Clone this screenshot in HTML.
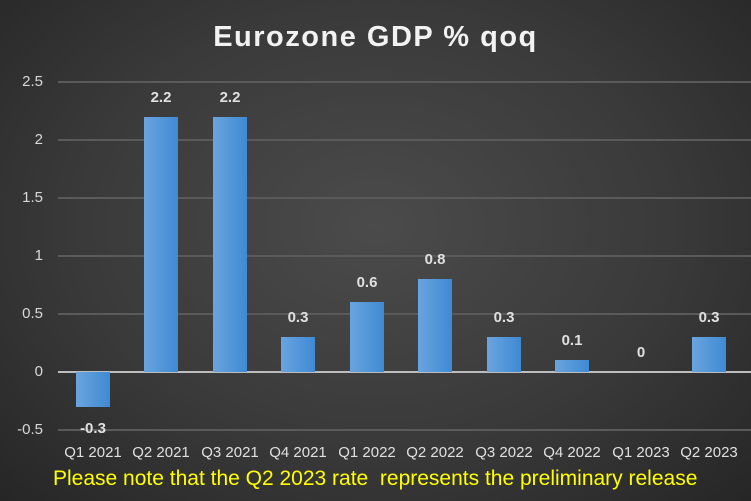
<!DOCTYPE html>
<html><head><meta charset="utf-8"><style>
body{margin:0;width:751px;height:501px;overflow:hidden;font-family:"Liberation Sans",sans-serif}
#c{position:relative;width:751px;height:501px;background:radial-gradient(ellipse at 50% 45%,#4b4b4b 0%,#3a3a3a 55%,#262626 100%)}
.t{position:absolute;white-space:nowrap}
.g{position:absolute;left:58px;width:693px;height:2px;background:#5a5a5a}
.b{position:absolute;width:34px;background:linear-gradient(to right,#6aa4de,#3f8ad4);}
.yl{position:absolute;right:708px;color:#d8d8d8;font-size:15px}
.v{position:absolute;color:#e0e0e0;font-size:15px;font-weight:bold;width:60px;text-align:center}
.x{position:absolute;top:444px;color:#e0e0e0;font-size:15px;width:70px;text-align:center}
</style></head><body><div id="c">
<div class="t" style="left:0;width:751px;text-align:center;top:21px;color:#f2f2f2;font-size:29px;font-weight:bold;letter-spacing:1.5px">Eurozone GDP % qoq</div>
<div class="g" style="top:81px"></div><div class="g" style="top:139px"></div><div class="g" style="top:197px"></div><div class="g" style="top:255px"></div><div class="g" style="top:313px"></div><div class="g" style="top:429px"></div>
<div class="g" style="top:371px;background:#bdbdbd"></div>
<div class="yl" style="top:73px">2.5</div><div class="yl" style="top:131px">2</div><div class="yl" style="top:189px">1.5</div><div class="yl" style="top:247px">1</div><div class="yl" style="top:305px">0.5</div><div class="yl" style="top:363px">0</div><div class="yl" style="top:421px">-0.5</div>
<div class="b" style="left:76px;top:372px;height:35px"></div>
<div class="b" style="left:144px;top:117px;height:255px"></div>
<div class="b" style="left:213px;top:117px;height:255px"></div>
<div class="b" style="left:281px;top:337px;height:35px"></div>
<div class="b" style="left:350px;top:302px;height:70px"></div>
<div class="b" style="left:418px;top:279px;height:93px"></div>
<div class="b" style="left:487px;top:337px;height:35px"></div>
<div class="b" style="left:555px;top:360px;height:12px"></div>
<div class="b" style="left:692px;top:337px;height:35px"></div>
<div class="v" style="left:63px;top:420px">-0.3</div>
<div class="v" style="left:131px;top:89px">2.2</div>
<div class="v" style="left:200px;top:89px">2.2</div>
<div class="v" style="left:268px;top:309px">0.3</div>
<div class="v" style="left:337px;top:274px">0.6</div>
<div class="v" style="left:405px;top:251px">0.8</div>
<div class="v" style="left:474px;top:309px">0.3</div>
<div class="v" style="left:542px;top:332px">0.1</div>
<div class="v" style="left:611px;top:344px">0</div>
<div class="v" style="left:679px;top:309px">0.3</div>
<div class="x" style="left:58px">Q1 2021</div><div class="x" style="left:126px">Q2 2021</div><div class="x" style="left:195px">Q3 2021</div><div class="x" style="left:263px">Q4 2021</div><div class="x" style="left:332px">Q1 2022</div><div class="x" style="left:400px">Q2 2022</div><div class="x" style="left:469px">Q3 2022</div><div class="x" style="left:537px">Q4 2022</div><div class="x" style="left:606px">Q1 2023</div><div class="x" style="left:674px">Q2 2023</div>
<div class="t" style="left:53px;top:467px;color:#ffff00;font-size:21px">Please note that the Q2 2023 rate&nbsp; represents the preliminary release</div>
</div></body></html>
